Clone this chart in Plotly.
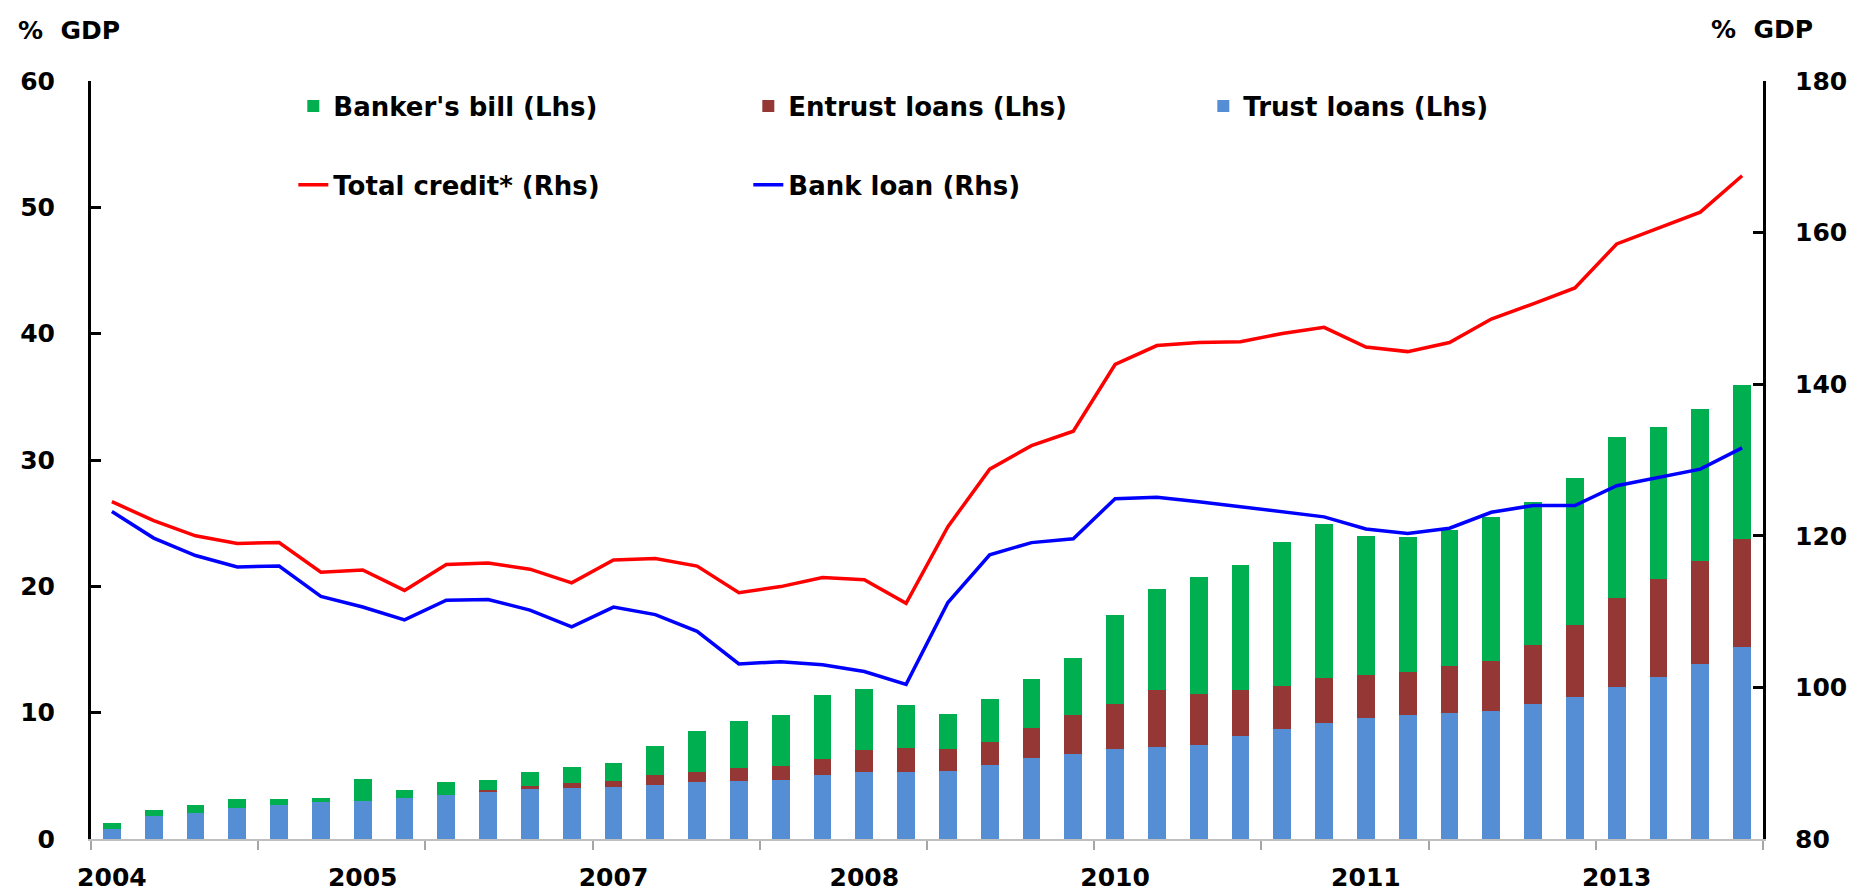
import plotly.graph_objects as go

# ---------------- data ----------------
quarters = [f"{y}Q{q}" for y in range(2004, 2014) for q in range(1, 5)]
x_idx = list(range(len(quarters)))

tick_years_pos = [0, 6, 12, 18, 24, 30, 36]
tick_years_text = ["2004", "2005", "2007", "2008", "2010", "2011", "2013"]

trust_loans = [0.83, 1.80, 2.04, 2.45, 2.73, 2.89, 3.04, 3.25, 3.48, 3.74,
               3.92, 4.00, 4.10, 4.28, 4.54, 4.62, 4.70, 5.06, 5.31, 5.31,
               5.39, 5.83, 6.45, 6.76, 7.12, 7.28, 7.46, 8.15, 8.67, 9.19,
               9.60, 9.80, 9.96, 10.14, 10.66, 11.28, 12.05, 12.82, 13.85, 15.20]
entrust_loans = [0.00, 0.00, 0.00, 0.00, 0.00, 0.00, 0.00, 0.00, 0.00, 0.16,
                 0.28, 0.44, 0.52, 0.75, 0.77, 1.03, 1.05, 1.29, 1.71, 1.89,
                 1.76, 1.81, 2.37, 3.04, 3.54, 4.51, 4.00, 3.64, 3.48, 3.55,
                 3.40, 3.41, 3.71, 3.97, 4.67, 5.67, 7.02, 7.78, 8.13, 8.51]
bankers_bill = [0.42, 0.47, 0.66, 0.72, 0.44, 0.33, 1.73, 0.59, 1.04, 0.77,
                1.09, 1.23, 1.36, 2.35, 3.23, 3.66, 4.05, 5.03, 4.85, 3.40,
                2.75, 3.46, 3.82, 4.50, 7.09, 8.00, 9.28, 9.86, 11.35, 12.21,
                10.97, 10.68, 10.81, 11.35, 11.35, 11.61, 12.77, 12.00, 12.02, 12.26]
total_credit = [124.5, 122.0, 120.0, 119.0, 119.1, 115.2, 115.5, 112.8, 116.2, 116.4,
                115.6, 113.8, 116.8, 117.0, 116.0, 112.5, 113.3, 114.5, 114.2, 111.1,
                121.2, 128.8, 131.9, 133.8, 142.6, 145.1, 145.5, 145.6, 146.7, 147.5,
                144.9, 144.3, 145.5, 148.6, 150.6, 152.7, 158.5, 160.6, 162.7, 167.5]
bank_loan = [123.2, 119.7, 117.4, 115.9, 116.0, 112.0, 110.6, 108.9, 111.5, 111.6,
             110.2, 108.0, 110.6, 109.6, 107.4, 103.1, 103.4, 103.0, 102.1, 100.4,
             111.2, 117.5, 119.1, 119.6, 124.9, 125.1, 124.5, 123.8, 123.2, 122.5,
             120.9, 120.3, 121.0, 123.1, 124.0, 124.0, 126.6, 127.7, 128.8, 131.6]

# ---------------- style ----------------
FONT = "DejaVu Sans"
C_GREEN = "#00B050"
C_BROWN = "#953735"
C_BLUE_BAR = "#558ED5"

fig = go.Figure()

fig.add_trace(go.Bar(x=x_idx, y=trust_loans, name="Trust loans (Lhs)",
                     marker=dict(color=C_BLUE_BAR, line=dict(width=0)),
                     customdata=quarters, legendrank=3, legend="legend"))
fig.add_trace(go.Bar(x=x_idx, y=entrust_loans, name="Entrust loans (Lhs)",
                     marker=dict(color=C_BROWN, line=dict(width=0)),
                     customdata=quarters, legendrank=2, legend="legend"))
fig.add_trace(go.Bar(x=x_idx, y=bankers_bill, name="Banker's bill (Lhs)",
                     marker=dict(color=C_GREEN, line=dict(width=0)),
                     customdata=quarters, legendrank=1, legend="legend"))

fig.add_trace(go.Scatter(x=x_idx, y=total_credit, name="Total credit* (Rhs)",
                         mode="lines", line=dict(color="#FF0000", width=3.5),
                         yaxis="y2", customdata=quarters, legend="legend2", legendrank=1))
fig.add_trace(go.Scatter(x=x_idx, y=bank_loan, name="Bank loan (Rhs)",
                         mode="lines", line=dict(color="#0000FF", width=3.5),
                         yaxis="y2", customdata=quarters, legend="legend2", legendrank=2))

tick_font = dict(family=FONT, size=25, color="black", weight="bold")
legend_font = dict(family=FONT, size=26, color="black", weight="bold")
title_font = dict(family=FONT, size=25, color="black", weight="bold")

fig.update_layout(
    width=1860, height=896,
    margin=dict(l=79, r=105, t=73, b=48),
    paper_bgcolor="white", plot_bgcolor="white",
    barmode="stack", bargap=0.57,
    showlegend=True,
    xaxis=dict(
        range=[-0.5, len(x_idx) - 0.5],
        tickmode="array", tickvals=tick_years_pos, ticktext=tick_years_text,
        ticks="", tickfont=tick_font, ticklabelstandoff=15,
        showgrid=False, zeroline=False,
        showline=True, linecolor="#BFBFBF", linewidth=1.5,
        minor=dict(tickmode="array",
                   tickvals=[-0.5 + 4 * k for k in range(11)],
                   ticks="outside", ticklen=9, tickwidth=1.5, tickcolor="#A6A6A6",
                   showgrid=False),
    ),
    yaxis=dict(
        range=[0, 60], dtick=10, tick0=0,
        ticks="inside", ticklen=10, tickwidth=3, tickcolor="black",
        showline=True, linecolor="black", linewidth=3,
        showgrid=False, zeroline=False,
        tickfont=tick_font, ticklabelstandoff=28,
    ),
    yaxis2=dict(
        range=[80, 180], dtick=20, tick0=80,
        overlaying="y", side="right",
        ticks="inside", ticklen=10, tickwidth=3, tickcolor="black",
        showline=True, linecolor="black", linewidth=3,
        showgrid=False, zeroline=False,
        tickfont=tick_font, ticklabelstandoff=24,
    ),
    legend=dict(
        orientation="h", x=0.121, xanchor="left", y=0.967, yanchor="middle",
        entrywidth=410, entrywidthmode="pixels",
        font=legend_font, bgcolor="rgba(0,0,0,0)", traceorder="normal",
    ),
    legend2=dict(
        orientation="h", x=0.121, xanchor="left", y=0.863, yanchor="middle",
        entrywidth=410, entrywidthmode="pixels",
        font=legend_font, bgcolor="rgba(0,0,0,0)", traceorder="normal",
    ),
    annotations=[
        dict(text="% \u00a0GDP", xref="paper", yref="paper", x=-0.013, y=1.066,
             xanchor="center", yanchor="middle", showarrow=False, font=title_font),
        dict(text="% \u00a0GDP", xref="paper", yref="paper", x=0.9994, y=1.068,
             xanchor="center", yanchor="middle", showarrow=False, font=title_font),
    ],
)

fig.write_html("out.html")
